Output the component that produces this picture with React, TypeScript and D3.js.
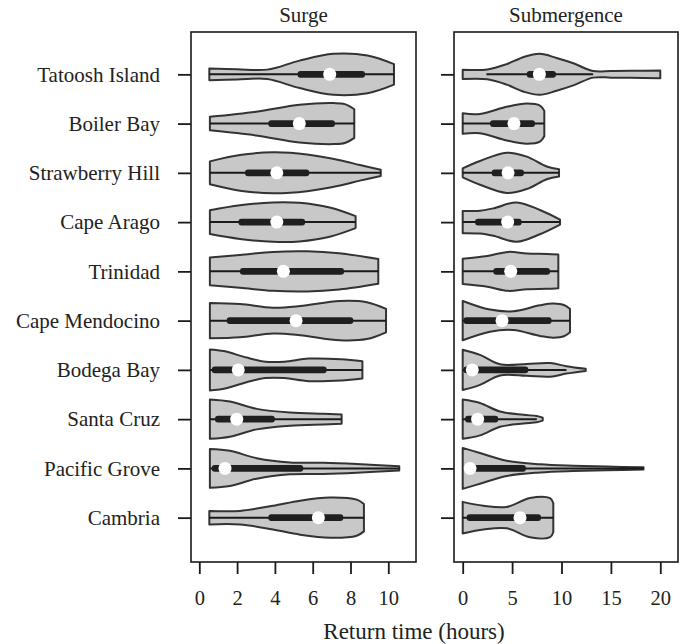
import React, { useEffect, useRef } from 'react'
import * as d3 from 'd3'

const sites = [
  'Tatoosh Island', 'Boiler Bay', 'Strawberry Hill', 'Cape Arago', 'Trinidad',
  'Cape Mendocino', 'Bodega Bay', 'Santa Cruz', 'Pacific Grove', 'Cambria',
]

const surgeTicks = [0, 2, 4, 6, 8, 10]
const subTicks = [0, 5, 10, 15, 20]

// density profiles: [return time, relative density]
const surgeDensity = [
  [[0.53, 0.29], [2, 0.25], [3.6, 0.23], [5.3, 0.67], [7.1, 1.0], [8.9, 0.92], [10.3, 0.5]],
  [[0.56, 0.33], [3.0, 0.58], [5.3, 0.92], [7.1, 1.0], [7.7, 0.95], [8.2, 0.7]],
  [[0.56, 0.56], [2.15, 0.87], [3.9, 1.0], [5.7, 0.9], [7.44, 0.62], [8.5, 0.38], [9.6, 0.15]],
  [[0.56, 0.58], [2.15, 0.82], [3.9, 0.96], [5.3, 0.94], [6.9, 0.71], [8.27, 0.29]],
  [[0.56, 0.68], [2.15, 0.8], [3.9, 0.95], [5.7, 0.98], [7.4, 0.88], [9.47, 0.6]],
  [[0.56, 0.86], [2.15, 0.81], [3.9, 0.63], [5.33, 0.71], [7.44, 0.96], [8.86, 0.9], [9.88, 0.57]],
  [[0.56, 1.0], [1.3, 0.92], [2.5, 0.6], [3.5, 0.4], [4.5, 0.4], [5.8, 0.55], [7.5, 0.52], [8.63, 0.42]],
  [[0.56, 0.96], [1.62, 0.86], [3.04, 0.5], [4.8, 0.32], [6.56, 0.26], [7.53, 0.23]],
  [[0.56, 0.95], [1.62, 0.86], [3.04, 0.5], [4.8, 0.29], [6.56, 0.27], [8.33, 0.21], [10.58, 0.1]],
  [[0.53, 0.33], [2.15, 0.33], [3.9, 0.58], [5.33, 0.83], [6.92, 0.98], [8.33, 0.88], [8.71, 0.67]],
]
const surgeLo = [0.53, 0.56, 0.56, 0.56, 0.56, 0.56, 0.56, 0.56, 0.56, 0.53]
const surgeHi = [10.3, 8.2, 9.6, 8.27, 9.47, 9.88, 8.63, 7.53, 10.58, 8.71]
const surgeQ1 = [5.2, 3.65, 2.42, 2.07, 2.15, 1.45, 0.66, 0.83, 0.66, 3.65]
const surgeMedian = [6.9, 5.29, 4.1, 4.1, 4.45, 5.12, 2.06, 1.98, 1.36, 6.3]
const surgeQ3 = [8.77, 7.18, 5.82, 5.6, 7.66, 8.15, 6.74, 4.0, 5.5, 7.62]

const subDensity = [
  [[0, 0.23], [2.5, 0.24], [4.45, 0.5], [6.2, 0.85], [7.8, 1.0], [9.5, 0.8], [11.2, 0.54], [13.2, 0.16], [15, 0.16], [17, 0.17], [20, 0.19]],
  [[0, 0.5], [1.75, 0.47], [4.45, 0.82], [6.48, 0.98], [7.82, 0.88], [8.26, 0.62]],
  [[0, 0.22], [1.75, 0.58], [4.45, 0.98], [6.48, 0.79], [8.5, 0.31], [9.75, 0.18]],
  [[0, 0.54], [1.75, 0.56], [3.1, 0.67], [5.47, 0.96], [7.82, 0.59], [9.85, 0.12]],
  [[0, 0.62], [2.5, 0.75], [4.6, 0.95], [6.5, 0.87], [8.5, 0.85], [9.68, 0.82]],
  [[0, 0.96], [2.76, 0.54], [5.12, 0.46], [7.82, 0.75], [9.17, 0.83], [10.3, 0.75], [10.86, 0.57]],
  [[0, 0.98], [1.75, 0.73], [3.78, 0.27], [6.48, 0.29], [8.84, 0.33], [10.5, 0.18], [12.45, 0.05]],
  [[0, 0.96], [1.75, 0.79], [3.78, 0.37], [6.14, 0.21], [7.49, 0.15], [8.1, 0.07]],
  [[0, 1.0], [1.75, 0.75], [4.45, 0.37], [7.82, 0.2], [11.2, 0.13], [14.6, 0.09], [18.3, 0.05]],
  [[0, 0.77], [2.09, 0.58], [4.45, 0.52], [6.81, 0.96], [8.84, 0.95], [9.17, 0.71]],
]
const subLo = [2.4, 0, 0, 0, 0, 0, 0, 0, 0, 0]
const subHi = [13.2, 8.26, 9.75, 9.85, 9.68, 10.86, 10.5, 7.5, 18.3, 9.17]
const subQ1 = [6.48, 2.76, 2.93, 1.25, 3.1, 0.07, 0.07, 0.24, 0.07, 0.4]
const subMedian = [7.76, 5.19, 4.59, 4.55, 4.86, 3.98, 0.97, 1.51, 0.74, 5.8]
const subQ3 = [9.44, 7.32, 6.2, 5.97, 8.84, 9.0, 6.64, 3.6, 6.4, 7.93]

const W = 682
const H = 644
const top = 32
const bottom = 562
const font = '"Liberation Serif", "Times New Roman", serif'

const panels = [
  { title: 'Surge', x0: 191, x1: 416, domain: [0, 10], range: [199.3, 388.3], ticks: surgeTicks,
    density: surgeDensity, lo: surgeLo, hi: surgeHi, q1: surgeQ1, med: surgeMedian, q3: surgeQ3, labels: true },
  { title: 'Submergence', x0: 454, x1: 678, domain: [0, 20], range: [462.7, 660.3], ticks: subTicks,
    density: subDensity, lo: subLo, hi: subHi, q1: subQ1, med: subMedian, q3: subQ3, labels: false },
]

const App = () => {
  const ref = useRef<SVGSVGElement>(null)

  useEffect(() => {
    const svg = d3.select(ref.current)
    svg.selectAll('*').remove()

    const y = d3.scalePoint<string>().domain(sites).range([31, 561]).padding(0.88)
    const w = d3.scaleLinear().domain([0, 1]).range([0, 20.5])

    panels.forEach(p => {
      const x = d3.scaleLinear().domain(p.domain).range(p.range)
      const g = svg.append('g')

      sites.forEach((s, i) => {
        const cy = y(s) as number
        const area = d3.area<number[]>()
          .x(d => x(d[0]))
          .y0(d => cy + w(d[1]))
          .y1(d => cy - w(d[1]))
          .curve(d3.curveCatmullRom.alpha(0.5))

        g.append('path')
          .attr('d', area(p.density[i]))
          .attr('fill', '#c8c8c8')
          .attr('stroke', '#333')
          .attr('stroke-width', 2)
          .attr('stroke-linejoin', 'round')

        g.append('line')
          .attr('x1', x(p.lo[i])).attr('x2', x(p.hi[i]))
          .attr('y1', cy).attr('y2', cy)
          .attr('stroke', '#1a1a1a')
          .attr('stroke-width', 2)

        g.append('rect')
          .attr('x', x(p.q1[i])).attr('width', x(p.q3[i]) - x(p.q1[i]))
          .attr('y', cy - 3.3).attr('height', 6.6)
          .attr('rx', 3)
          .attr('fill', '#1f1f1f')

        g.append('circle')
          .attr('cx', x(p.med[i])).attr('cy', cy)
          .attr('r', 6.5)
          .attr('fill', '#fff')
      })

      // frame
      svg.append('rect')
        .attr('x', p.x0).attr('y', top)
        .attr('width', p.x1 - p.x0).attr('height', bottom - top)
        .attr('fill', 'none')
        .attr('stroke', '#1a1a1a')
        .attr('stroke-width', 1.6)

      // x axis
      const xa = svg.append('g')
        .attr('class', 'xaxis')
        .attr('transform', `translate(0,${bottom})`)
        .call(d3.axisBottom(x).tickValues(p.ticks).tickSize(12).tickPadding(16.8).tickFormat(d3.format('d')))
      xa.select('.domain').remove()

      // y axis
      const ya = svg.append('g')
        .attr('class', 'yaxis')
        .attr('transform', `translate(${p.x0},0)`)
        .call(d3.axisLeft(y).tickSize(13).tickPadding(18).tickFormat(p.labels ? (d => d) : () => ''))
      ya.select('.domain').remove()

      svg.append('text')
        .attr('x', (p.x0 + p.x1) / 2)
        .attr('y', 22)
        .attr('text-anchor', 'middle')
        .attr('font-size', 21)
        .attr('font-family', font)
        .attr('fill', '#222')
        .text(p.title)
    })

    svg.append('text')
      .attr('x', 414)
      .attr('y', 639)
      .attr('text-anchor', 'middle')
      .attr('font-size', 23)
      .attr('font-family', font)
      .attr('fill', '#222')
      .text('Return time (hours)')

    svg.selectAll('.tick line').attr('stroke', '#1a1a1a').attr('stroke-width', 1.8)
    svg.selectAll('.tick text').attr('fill', '#222').attr('font-family', font)
    svg.selectAll('.xaxis .tick text').attr('font-size', 20.5)
    svg.selectAll('.yaxis .tick text').attr('font-size', 21)
  })

  return (
    <svg ref={ref} width={W} height={H} style={{ display: 'block', position: 'absolute', left: 0, top: 0 }} />
  )
}

export default App
